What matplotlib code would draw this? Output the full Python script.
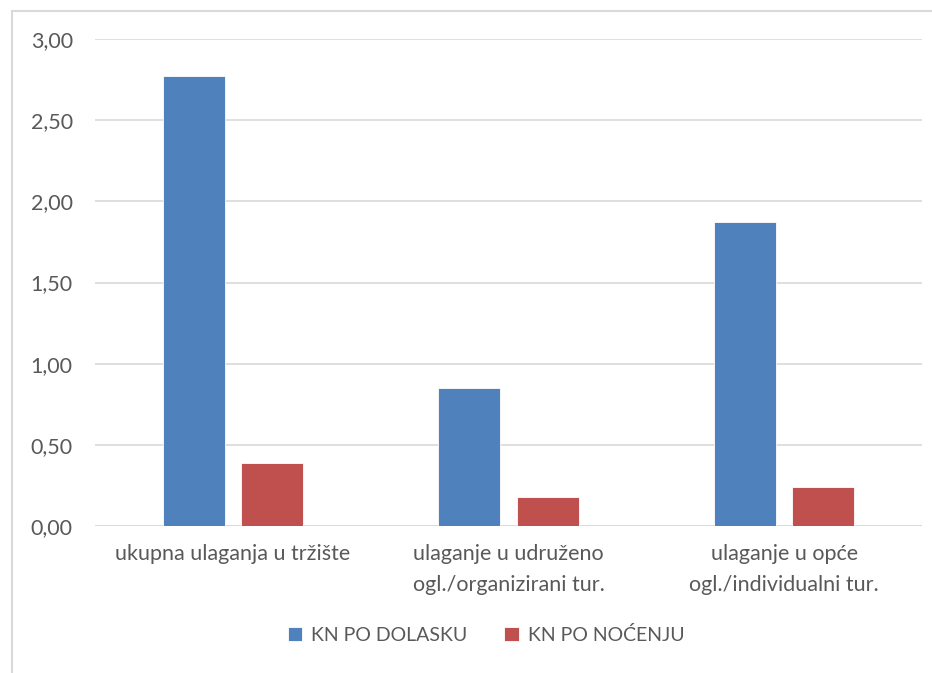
import matplotlib
matplotlib.use("Agg")
import matplotlib.pyplot as plt
from matplotlib.patches import Rectangle
import numpy as np

categories = ["ukupna ulaganja u tržište",
              "ulaganje u udruženo\nogl./organizirani tur.",
              "ulaganje u opće\nogl./individualni tur."]
series_names = ["KN PO DOLASKU", "KN PO NOĆENJU"]
dolazak = [2.77, 0.85, 1.87]
nocenje = [0.39, 0.18, 0.24]
yticks = [0.0, 0.5, 1.0, 1.5, 2.0, 2.5, 3.0]

plt.rcParams['font.family'] = ['Lato', 'DejaVu Sans']
txt = '#595959'
blue = '#4F81BD'
red = '#C0504D'

fig = plt.figure(figsize=(9.32, 6.73), dpi=100)
ax = fig.add_axes([95/932, 1-526/673, (922-95)/932, (526-39)/673])

x = np.arange(len(categories))
w = 0.225
off = 0.142
ax.bar(x - off, dolazak, width=w, color=blue, edgecolor='white', linewidth=0.6, label=series_names[0], zorder=3)
ax.bar(x + off, nocenje, width=w, color=red, edgecolor='white', linewidth=0.6, label=series_names[1], zorder=3)

ax.set_xlim(-0.5, len(categories) - 0.5)
ax.set_ylim(0, 3.0)
ax.set_yticks(yticks)
ax.set_yticklabels([f"{v:.2f}".replace('.', ',') for v in yticks], color=txt, fontsize=15.5)
ax.set_xticks(x)
ax.set_xticklabels(categories, color=txt, fontsize=15.5, linespacing=1.68)
ax.tick_params(axis='both', length=0)
ax.tick_params(axis='y', pad=16)
ax.tick_params(axis='x', pad=13)
ax.grid(axis='y', color='#D9D9D9', linewidth=1.2, zorder=0)
for s in ax.spines.values():
    s.set_visible(False)
ax.axhline(0, color='#D9D9D9', linewidth=1.2, zorder=1)

leg = fig.legend(loc='center', bbox_to_anchor=(486/932, 1-635/673), ncol=2, frameon=False,
                 fontsize=14.0, handlelength=0.75, handleheight=0.75, handletextpad=0.45,
                 columnspacing=1.9)
for t in leg.get_texts():
    t.set_color(txt)

fig.patches.append(Rectangle((12/932, -0.05), 1.2, 1.05 - 11/673,
                             transform=fig.transFigure, fill=False, edgecolor='#D9D9D9', linewidth=1.5))

fig.savefig('out.png', dpi=100)
